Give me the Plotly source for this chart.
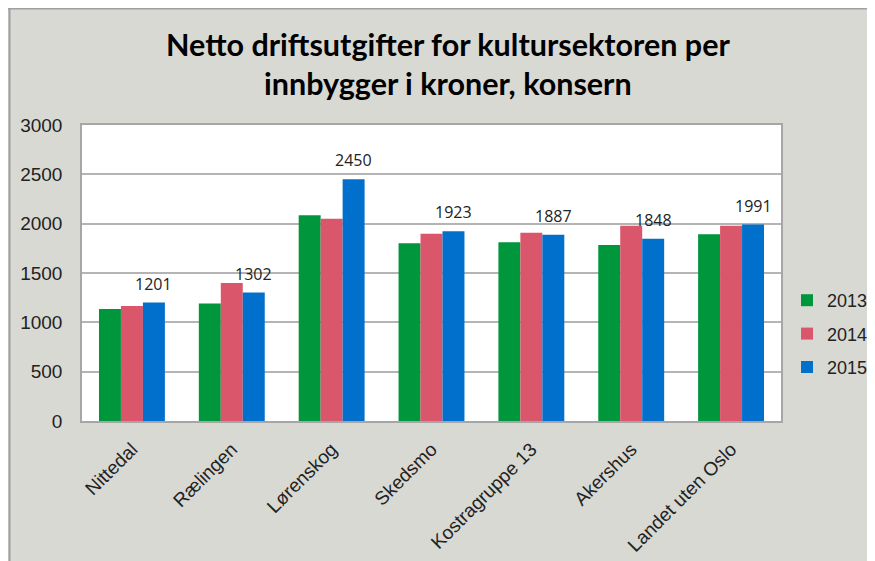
import plotly.graph_objects as go

categories = ["Nittedal", "Rælingen", "Lørenskog", "Skedsmo", "Kostragruppe 13", "Akershus", "Landet uten Oslo"]
years = ["2013", "2014", "2015"]
v2013 = [1135, 1192, 2086, 1801, 1812, 1784, 1893]
v2014 = [1165, 1398, 2051, 1899, 1909, 1980, 1980]
v2015 = [1201, 1302, 2450, 1923, 1887, 1848, 1991]
yticks = [0, 500, 1000, 1500, 2000, 2500, 3000]
title_lines = ["Netto driftsutgifter for kultursektoren per", "innbygger i kroner, konsern"]

colors = ["#00963C", "#D9566B", "#0070CC"]
W, H = 875, 561
OFF = 8  # page body margin offset
ML, MT = 82 - OFF, 125 - OFF
PR, PB = 781 - OFF, 421 - OFF
MR, MB = W - PR, H - PB
PW, PH = W - ML - MR, H - MT - MB

def px_x(p):
    return (p - OFF - ML) / PW

def px_y(p):
    return (H - MB - (p - OFF)) / PH

fig = go.Figure()
for name, vals, c in zip(years, [v2013, v2014, v2015], colors):
    fig.add_trace(go.Bar(x=categories, y=vals, name=name, marker=dict(color=c, line=dict(width=0)),
                         legendgroup=name))

for cat, v in zip(categories, v2015):
    fig.add_annotation(x=cat, y=v, text=str(v), showarrow=False, xshift=22, yshift=19,
                       yanchor="middle", font=dict(family="Open Sans", size=16, color="#222222"))

for line, yc in zip(title_lines, [44, 83]):
    fig.add_annotation(xref="paper", yref="paper", x=px_x(448), y=px_y(yc), text="<b>" + line + "</b>",
                       showarrow=False, xanchor="center", yanchor="middle",
                       font=dict(family="Lato", size=30.5, color="black"))

fig.update_layout(
    width=W, height=H,
    margin=dict(l=ML, r=MR, t=MT, b=MB, autoexpand=False),
    paper_bgcolor="#D9D9D4", plot_bgcolor="white",
    barmode="group", bargap=0.34, bargroupgap=0,
    legend=dict(xref="container", yref="container", x=(787 - OFF) / W, y=1 - (334 - OFF) / H,
                xanchor="left", yanchor="middle",
                font=dict(family="Liberation Sans", size=18, color="#222222"),
                bgcolor="rgba(0,0,0,0)", tracegroupgap=7, itemwidth=30),
    xaxis=dict(tickangle=-45, tickfont=dict(family="Liberation Sans", size=19, color="#222222"),
               showline=True, linecolor="#A6A6A6", linewidth=1.5, mirror=True, ticks="",
               automargin=False, ticklabelstandoff=8),
    yaxis=dict(range=[0, 3000], tickvals=yticks, tickfont=dict(family="Liberation Sans", size=19, color="#222222"),
               showgrid=True, gridcolor="#B4B4B4", gridwidth=1.5, showline=True, linecolor="#A6A6A6",
               linewidth=1.5, mirror=True, ticks="", zeroline=False, automargin=False, ticklabelstandoff=14),
    showlegend=True,
)

# chart border along top and left edges
fig.add_shape(type="line", xref="paper", yref="paper", x0=px_x(8), x1=px_x(W + OFF), y0=px_y(8.5), y1=px_y(8.5),
              line=dict(color="#A0A0A0", width=2), layer="below")
fig.add_shape(type="line", xref="paper", yref="paper", x0=px_x(9.5), x1=px_x(9.5), y0=px_y(8), y1=px_y(H + OFF),
              line=dict(color="#A0A0A0", width=2), layer="below")

fig.write_html("out.html")
